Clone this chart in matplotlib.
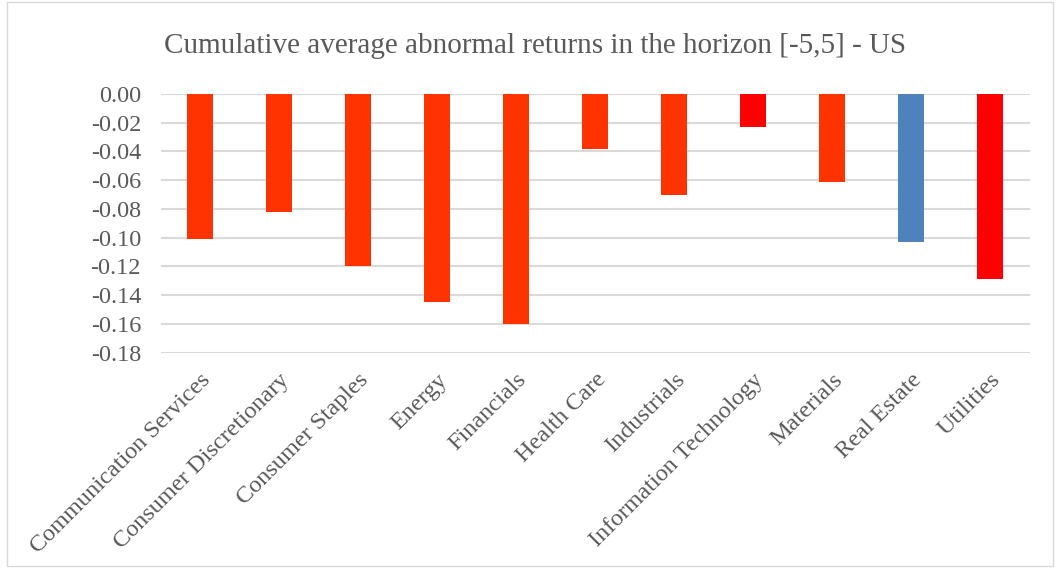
import matplotlib.pyplot as plt
import matplotlib.patches as mpatches

sectors = ["Communication Services", "Consumer Discretionary", "Consumer Staples",
           "Energy", "Financials", "Health Care", "Industrials",
           "Information Technology", "Materials", "Real Estate", "Utilities"]
caar = [-0.101, -0.082, -0.120, -0.145, -0.160, -0.038, -0.070,
        -0.023, -0.061, -0.103, -0.129]
bar_colors = ["#FF3300", "#FF3300", "#FF3300", "#FF3300", "#FF3300", "#FF3300",
              "#FF3300", "#FF0000", "#FF3300", "#4F81BD", "#FF0000"]
yticks = [0.00, -0.02, -0.04, -0.06, -0.08, -0.10, -0.12, -0.14, -0.16, -0.18]

plt.rcParams['font.family'] = ['Liberation Serif', 'DejaVu Serif']

fig = plt.figure(figsize=(10.56, 5.69), dpi=100)
ax = fig.add_axes([0.152, 0.380, 0.823, 0.455])

x = range(len(sectors))
ax.bar(x, caar, width=0.32, color=bar_colors, zorder=3)

ax.set_xlim(-0.5, len(sectors) - 0.5)
ax.set_ylim(-0.18, 0)
ax.set_yticks(yticks)
ax.set_yticklabels(["%.2f" % v for v in yticks], fontsize=17.5, color="#595959")
ax.set_xticks(list(x))
ax.set_xticklabels(sectors, rotation=45, ha="right", rotation_mode="anchor",
                   fontsize=17.5, color="#595959")
ax.tick_params(axis="both", length=0)
ax.tick_params(axis="x", pad=12)
ax.tick_params(axis="y", pad=14)
ax.grid(axis="y", color="#D9D9D9", linewidth=1.5, zorder=0)
for s in ax.spines.values():
    s.set_visible(False)

fig.text(0.507, 0.92, "Cumulative average abnormal returns in the horizon [-5,5] - US",
         ha="center", va="center", fontsize=21, color="#595959")

fig.patches.append(mpatches.Rectangle((0.007, 0.006), 0.99, 0.99, transform=fig.transFigure,
                                      fill=False, edgecolor="#D9D9D9", linewidth=1))

fig.savefig("out.png", dpi=100)
